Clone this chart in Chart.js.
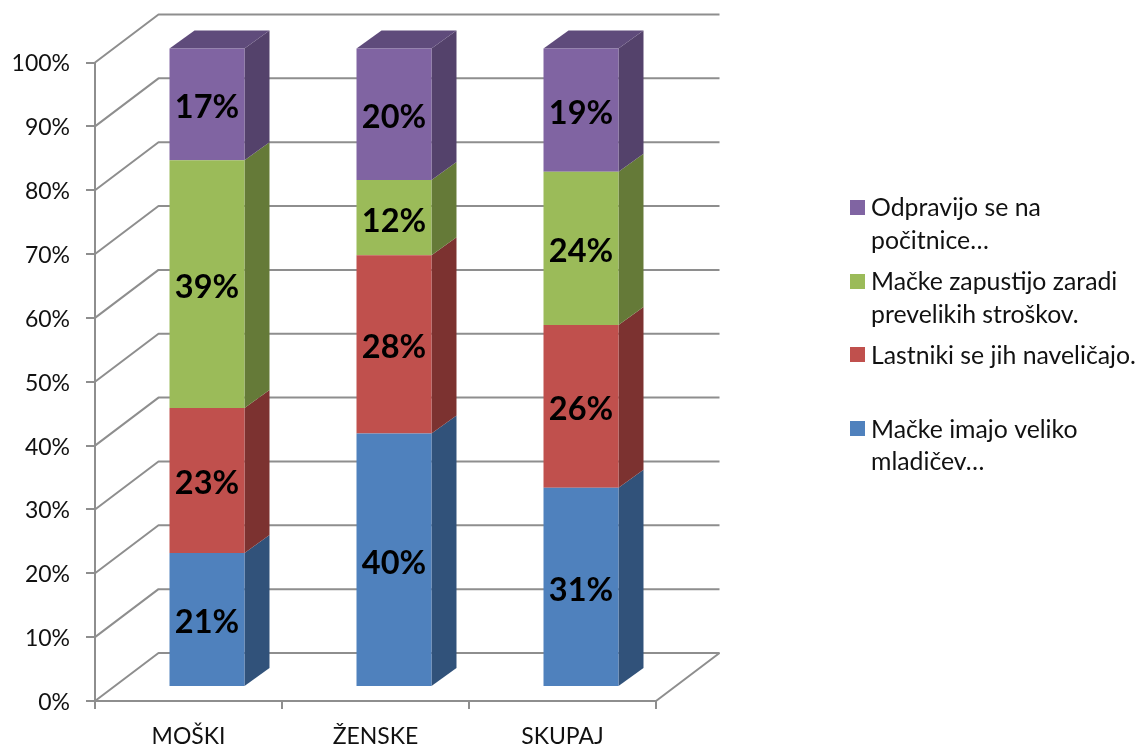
<!DOCTYPE html>
<html><head><meta charset="utf-8">
<style>html,body{margin:0;padding:0;background:#fff}canvas{display:block}</style>
<script src="https://cdn.jsdelivr.net/npm/chart.js@4"></script>
</head><body><canvas id="c" width="1139" height="746"></canvas>
<script>
const categories = ["MOŠKI", "ŽENSKE", "SKUPAJ"];
const mladicev = [21.0, 39.7, 31.2];
const lastniki = [22.7, 27.9, 25.5];
const stroski = [38.8, 11.8, 24.0];
const pocitnice = [17.5, 20.6, 19.3];
const mladicevLabels = ["21%", "40%", "31%"];
const lastnikiLabels = ["23%", "28%", "26%"];
const stroskiLabels = ["39%", "12%", "24%"];
const pocitniceLabels = ["17%", "20%", "19%"];
const yTicks = [0,10,20,30,40,50,60,70,80,90,100];
const legendRows = [
  {color:"#8064A2", lines:["Odpravijo se na","počitnice…"], box:200, base:[216,249]},
  {color:"#9BBB59", lines:["Mačke zapustijo zaradi","prevelikih stroškov."], box:274, base:[290,323]},
  {color:"#C0504D", lines:["Lastniki se jih naveličajo."], box:347, base:[364]},
  {color:"#4F81BD", lines:["Mačke imajo veliko","mladičev…"], box:421, base:[438,470]}
];
const FONT = "Lato, Carlito, sans-serif";
const GRID = "#8e8e8e";
const WALL = {dx:63.5, dy:-48};
const BAR = {dx:18.5, dy:-14, sx:25, sy:-18};

const threeD = {
  id:"threeD",
  beforeDatasetsDraw(chart){
    const {ctx, scales:{x,y}} = chart;
    const L = x.left, R = x.right;
    ctx.save();
    ctx.strokeStyle = GRID; ctx.lineWidth = 2; ctx.lineJoin = "bevel";
    yTicks.forEach(v=>{
      const p = y.getPixelForValue(v);
      ctx.beginPath();
      ctx.moveTo(L,p);
      ctx.lineTo(L+WALL.dx,p+WALL.dy);
      ctx.lineTo(R+WALL.dx,p+WALL.dy);
      if(v===0) ctx.lineTo(R,p);
      ctx.stroke();
    });
    chart.data.datasets.forEach((ds,i)=>{
      chart.getDatasetMeta(i).data.forEach(el=>{
        const xr = el.x+el.width/2+BAR.dx, top = el.y+BAR.dy, bot = el.base+BAR.dy;
        ctx.fillStyle = ds.sideColor;
        ctx.beginPath();
        ctx.moveTo(xr,top); ctx.lineTo(xr+BAR.sx,top+BAR.sy);
        ctx.lineTo(xr+BAR.sx,bot+BAR.sy); ctx.lineTo(xr,bot);
        ctx.closePath(); ctx.fill();
        if(i===chart.data.datasets.length-1){
          const xl = el.x-el.width/2+BAR.dx;
          ctx.fillStyle = ds.topColor;
          ctx.beginPath();
          ctx.moveTo(xl,top); ctx.lineTo(xl+BAR.sx,top+BAR.sy);
          ctx.lineTo(xr+BAR.sx,top+BAR.sy); ctx.lineTo(xr,top);
          ctx.closePath(); ctx.fill();
        }
      });
    });
    ctx.restore();
    ctx.save();
    ctx.translate(BAR.dx,BAR.dy);
  },
  afterDatasetsDraw(chart){
    const ctx = chart.ctx;
    ctx.restore();
    ctx.save();
    ctx.fillStyle = "#000";
    ctx.font = "bold 32.5px "+FONT;
    ctx.textAlign = "center"; ctx.textBaseline = "middle";
    chart.data.datasets.forEach((ds,i)=>{
      chart.getDatasetMeta(i).data.forEach((el,j)=>{
        ctx.fillText(ds.valueLabels[j], el.x+BAR.dx, (el.y+el.base)/2+BAR.dy+3.5);
      });
    });
    ctx.textAlign = "left"; ctx.textBaseline = "alphabetic";
    ctx.font = "24.8px "+FONT;
    legendRows.forEach(r=>{
      ctx.fillStyle = r.color;
      ctx.fillRect(850,r.box,15,15);
      ctx.fillStyle = "#111";
      r.lines.forEach((t,k)=>ctx.fillText(t,871,r.base[k]));
    });
    ctx.restore();
  }
};

const ds = (label,data,valueLabels,backgroundColor,sideColor,topColor)=>({label,data,valueLabels,backgroundColor,sideColor,topColor,clip:false,borderWidth:0,barPercentage:1,categoryPercentage:0.401});

new Chart(document.getElementById("c"),{
  type:"bar",
  data:{labels:categories,datasets:[
    ds("Mačke imajo veliko mladičev…",mladicev,mladicevLabels,"#4F81BD","#31527A"),
    ds("Lastniki se jih naveličajo.",lastniki,lastnikiLabels,"#C0504D","#7C3230"),
    ds("Mačke zapustijo zaradi prevelikih stroškov.",stroski,stroskiLabels,"#9BBB59","#657A38"),
    ds("Odpravijo se na počitnice…",pocitnice,pocitniceLabels,"#8064A2","#54426B","#5F4B7B")
  ]},
  options:{
    responsive:false,animation:false,devicePixelRatio:1,
    layout:{padding:{top:62.5,right:483,bottom:0,left:0}},
    plugins:{legend:{display:false},title:{display:false},tooltip:{enabled:false}},
    scales:{
      x:{stacked:true,
        afterFit(s){s.height=45;},
        grid:{offset:true,drawOnChartArea:false,drawTicks:true,tickLength:8,color:GRID,lineWidth:2},
        border:{display:true,color:GRID,width:2},
        ticks:{color:"#111",font:{family:FONT,size:23},padding:14,maxRotation:0}},
      y:{stacked:true,min:0,max:100,
        afterFit(s){s.width=95;},
        grid:{drawOnChartArea:false,drawTicks:true,tickLength:9,color:GRID,lineWidth:2},
        border:{display:true,color:GRID,width:2},
        ticks:{stepSize:10,color:"#111",padding:16,labelOffset:1.5,font:{family:FONT,size:23},callback:v=>v+"%"}}
    }
  },
  plugins:[threeD]
});
</script></body></html>
